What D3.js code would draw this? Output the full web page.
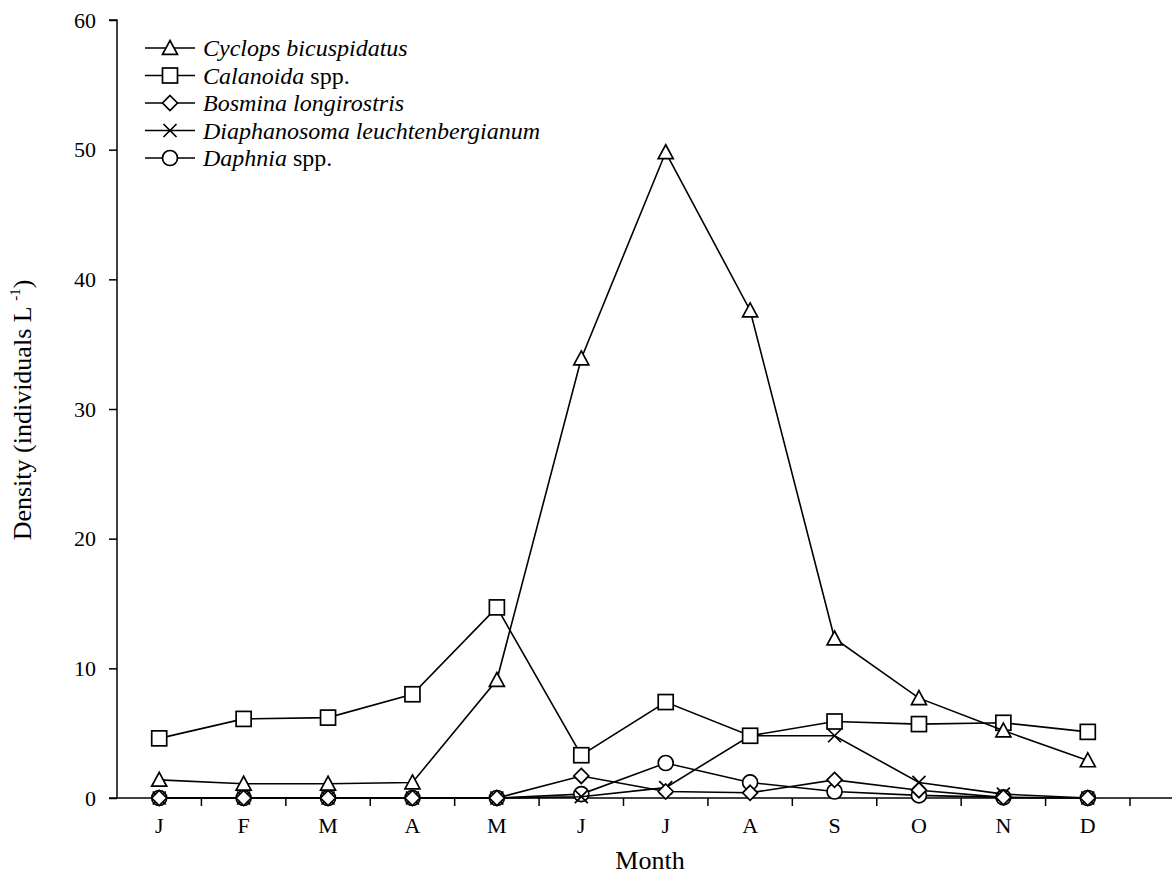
<!DOCTYPE html>
<html>
<head>
<meta charset="utf-8">
<script src="https://cdn.jsdelivr.net/npm/d3@7"></script>
<style>
  body { margin: 0; background: #fff; }
</style>
</head>
<body>
<svg id="chart" width="1176" height="878" font-family="Liberation Serif, Times New Roman, serif"></svg>
<script>
const months = ["J", "F", "M", "A", "M", "J", "J", "A", "S", "O", "N", "D"];
const yTicks = [0, 10, 20, 30, 40, 50, 60];

const cyclops = [1.4, 1.1, 1.1, 1.2, 9.1, 33.9, 49.8, 37.6, 12.3, 7.7, 5.2, 2.9];
const calanoida = [4.6, 6.1, 6.2, 8.0, 14.7, 3.3, 7.4, 4.8, 5.9, 5.7, 5.8, 5.1];
const bosmina = [0, 0, 0, 0, 0, 1.7, 0.5, 0.4, 1.4, 0.6, 0.05, 0];
const diaphanosoma = [0, 0, 0, 0, 0, 0.1, 0.8, 4.8, 4.8, 1.2, 0.3, 0];
const daphnia = [0, 0, 0, 0, 0, 0.3, 2.7, 1.2, 0.5, 0.2, 0.05, 0];

const series = [
  { italic: "Cyclops bicuspidatus", plain: "", shape: "triangle", values: cyclops },
  { italic: "Calanoida", plain: " spp.", shape: "square", values: calanoida },
  { italic: "Bosmina longirostris", plain: "", shape: "diamond", values: bosmina },
  { italic: "Diaphanosoma leuchtenbergianum", plain: "", shape: "cross", values: diaphanosoma },
  { italic: "Daphnia", plain: " spp.", shape: "circle", values: daphnia }
];

const FONT = "Liberation Serif, Times New Roman, serif";
const svg = d3.select("#chart");
const mLeft = 117, mRight = 1130, mTop = 20, mBottom = 798;

const x = d3.scaleBand().domain(d3.range(12)).range([mLeft, mRight]);
const y = d3.scaleLinear().domain([0, 60]).range([mBottom, mTop]);
const cx = i => x(i) + x.bandwidth() / 2;

// y axis
const yAxis = svg.append("g")
  .attr("transform", `translate(${mLeft},0)`)
  .call(d3.axisLeft(y).tickValues(yTicks).tickSize(8).tickPadding(13));
yAxis.attr("font-family", FONT).attr("font-size", 22);
yAxis.select(".domain").attr("stroke-width", 1.5).attr("d", `M-8,${mTop}H0V${mBottom}`);
yAxis.selectAll(".tick line").attr("stroke-width", 1.5);

// x axis
const xg = svg.append("g").attr("transform", `translate(0,${mBottom})`);
xg.append("line").attr("x1", mLeft - 8).attr("x2", 1172).attr("stroke", "#000").attr("stroke-width", 1.5);
xg.selectAll(".xt").data(d3.range(1, 13)).join("line")
  .attr("x1", i => x(i - 1) + x.bandwidth()).attr("x2", i => x(i - 1) + x.bandwidth())
  .attr("y1", 0).attr("y2", 8).attr("stroke", "#000").attr("stroke-width", 1.5);
xg.selectAll(".xl").data(months).join("text")
  .attr("x", (d, i) => cx(i)).attr("y", 35)
  .attr("text-anchor", "middle").attr("font-size", 22).text(d => d);

// axis titles
svg.append("text").attr("x", 650).attr("y", 869)
  .attr("text-anchor", "middle").attr("font-size", 26).text("Month");
const yt = svg.append("text")
  .attr("transform", `translate(31,${410}) rotate(-90)`)
  .attr("text-anchor", "middle").attr("font-size", 26);
yt.append("tspan").text("Density (individuals L ");
yt.append("tspan").attr("font-size", 15).attr("dy", -11).text("-1");
yt.append("tspan").attr("dy", 11).text(")");

// markers
function drawMarker(g, shape) {
  const s = 7.5;
  const st = { fill: "#fff", stroke: "#000", "stroke-width": 1.7 };
  let m;
  if (shape === "triangle") m = g.append("path").attr("d", `M0,${-s}L${s},${s * 0.85}L${-s},${s * 0.85}Z`);
  else if (shape === "square") m = g.append("rect").attr("x", -s).attr("y", -s).attr("width", 2 * s).attr("height", 2 * s);
  else if (shape === "diamond") m = g.append("path").attr("d", `M0,${-s}L${s},0L0,${s}L${-s},0Z`);
  else if (shape === "circle") m = g.append("circle").attr("r", s);
  else if (shape === "cross") { m = g.append("path").attr("d", "M-6.5,-6.5L6.5,6.5M6.5,-6.5L-6.5,6.5"); st.fill = "none"; }
  Object.entries(st).forEach(([k, v]) => m.attr(k, v));
}

const line = d3.line().x((d, i) => cx(i)).y(d => y(d));

// draw series (reverse so Cyclops ends on top)
series.slice().reverse().forEach(s => {
  const g = svg.append("g");
  g.append("path").datum(s.values).attr("d", line)
    .attr("fill", "none").attr("stroke", "#000").attr("stroke-width", 1.6);
  s.values.forEach((v, i) => {
    const mg = g.append("g").attr("transform", `translate(${cx(i)},${y(v)})`);
    drawMarker(mg, s.shape);
  });
});

// legend
const legend = svg.append("g");
series.forEach((s, i) => {
  const ly = 48 + i * 27.5;
  const lg = legend.append("g").attr("transform", `translate(0,${ly})`);
  lg.append("line").attr("x1", 145).attr("x2", 195).attr("stroke", "#000").attr("stroke-width", 1.6);
  const mg = lg.append("g").attr("transform", "translate(170,0)");
  drawMarker(mg, s.shape);
  const t = lg.append("text").attr("x", 203).attr("y", 8).attr("font-size", 24);
  t.append("tspan").attr("font-style", "italic").text(s.italic);
  if (s.plain) t.append("tspan").text(s.plain);
});

svg.selectAll("text").attr("font-family", FONT).attr("fill", "#000");
</script>
</body>
</html>
